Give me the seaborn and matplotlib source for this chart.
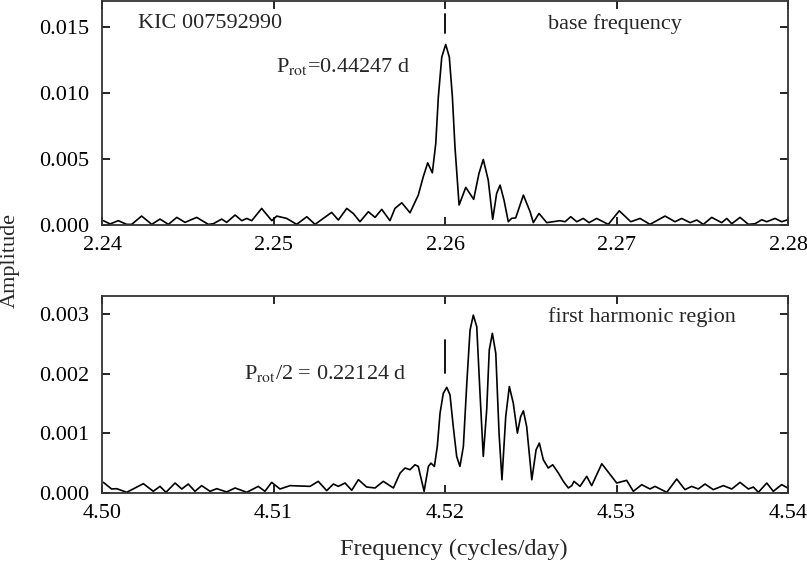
import numpy as np
import pandas as pd
import matplotlib
matplotlib.use("Agg")
import matplotlib.pyplot as plt
import seaborn as sns

# base frequency region (peaks, troughs and flanks)
freq_base = [2.24008, 2.24047, 2.24095, 2.24144, 2.24173, 2.24231, 2.2429, 2.24338,
             2.24387, 2.24436, 2.24484, 2.24552, 2.2462, 2.24649, 2.24698, 2.24727,
             2.24776, 2.24815, 2.24844, 2.24873, 2.24931, 2.2499, 2.25019, 2.25077,
             2.25135, 2.25194, 2.25242, 2.2529, 2.25339, 2.25378, 2.25427, 2.25465,
             2.25504, 2.25553, 2.25592, 2.25631, 2.25679,
             2.25708, 2.25748, 2.25796, 2.25844, 2.25873, 2.25899, 2.25926, 2.25946,
             2.25961, 2.25981, 2.26004, 2.26025, 2.26043, 2.26058, 2.26082, 2.26121,
             2.26167, 2.26198, 2.26223, 2.26252, 2.26278, 2.26301, 2.26321, 2.26344,
             2.26369, 2.26389, 2.26412, 2.26457, 2.26496, 2.26515, 2.26548, 2.26593,
             2.2667, 2.267, 2.26733, 2.26768, 2.26806, 2.2684, 2.26884, 2.26952,
             2.27016, 2.27083, 2.27137, 2.27195, 2.27283, 2.27341, 2.2738, 2.27429,
             2.27468, 2.27506, 2.27555, 2.27613, 2.27643, 2.27672, 2.2772, 2.27769,
             2.27808, 2.27847, 2.27876, 2.27924, 2.27963, 2.27998]
amp_base = [0.00033, 0.00008, 0.00033, 0.00005, 0.00005, 0.00068, 0.00005, 0.00045,
            0.00005, 0.00058, 0.0002, 0.00058, 0.00005, 0.0001, 0.00045, 0.0002,
            0.00076, 0.00033, 0.0005, 0.00033, 0.00126, 0.00033, 0.00068, 0.0005,
            0.00005, 0.00063, 0.00005, 0.0005, 0.00096, 0.00038, 0.00126, 0.00088,
            0.00025, 0.00101, 0.00058, 0.00119, 0.00033,
            0.00126, 0.00169, 0.00093, 0.00227, 0.00366, 0.00472, 0.00396, 0.00619,
            0.00972, 0.01275, 0.01371, 0.01275, 0.00972, 0.00593, 0.00152, 0.00286,
            0.00195, 0.00392, 0.00498, 0.00341, 0.00043, 0.0024, 0.00303, 0.00189,
            0.00025, 0.00051, 0.00054, 0.00227, 0.00101, 0.00018, 0.00088, 0.00018,
            0.00033, 0.00025, 0.00063, 0.00025, 0.0005, 0.00018, 0.0005, 0.00005,
            0.00108, 0.00025, 0.0005, 0.00005, 0.00068, 0.00025, 0.0005, 0.00018,
            0.00038, 0.00005, 0.00058, 0.00018, 0.0005, 0.0001, 0.00058, 0.00005,
            0.0001, 0.0004, 0.00025, 0.0005, 0.00025, 0.0004]

# first harmonic region
freq_harm = [4.50008, 4.50056, 4.50086, 4.50144, 4.50241, 4.50299, 4.50338, 4.50373,
             4.50426, 4.50465, 4.50503, 4.50542, 4.50581, 4.5063, 4.50669, 4.50727,
             4.50776, 4.50844, 4.50911, 4.5095, 4.50989, 4.51038, 4.51096, 4.51213,
             4.51261, 4.5131, 4.51349, 4.51378, 4.51417, 4.51456, 4.51495, 4.51543,
             4.51592, 4.5164, 4.51699,
             4.51738, 4.51767, 4.51796, 4.51825, 4.51844, 4.51878, 4.51903, 4.51918,
             4.51938, 4.51955, 4.51971, 4.5199, 4.5201, 4.52029, 4.52048, 4.52068,
             4.52087, 4.52107, 4.52127, 4.52146, 4.52165, 4.52185, 4.52204, 4.52223,
             4.52243, 4.52258, 4.52276, 4.52296, 4.52315, 4.52332, 4.52354, 4.52375,
             4.52398, 4.52422, 4.52441, 4.52457, 4.52476, 4.52506, 4.52531, 4.5255,
             4.52573, 4.52602, 4.52628, 4.52661, 4.5269, 4.52719,
             4.52739, 4.52752, 4.52787, 4.52826, 4.52855, 4.52914, 4.53001, 4.53059,
             4.53098, 4.53147, 4.53195, 4.53224, 4.53293, 4.53351, 4.53399, 4.53438,
             4.53477, 4.53516, 4.53564, 4.53623, 4.53672, 4.5372, 4.53769, 4.53798,
             4.53827, 4.53876, 4.53914, 4.53963, 4.53998]
amp_harm = [0.000178, 0.000067, 0.000072, 0.000011, 0.000156, 0.000028, 0.000111, 0.000011,
            0.000167, 0.000067, 0.00015, 0.000028, 0.000123, 0.000028, 0.000072, 0.000017,
            0.000084, 0.000011, 0.000111, 0.000028, 0.000178, 0.000067, 0.000123, 0.000111,
            0.000195, 0.000039, 0.00015, 0.000111, 0.000167, 0.000045, 0.000223, 0.0001,
            0.000084, 0.000195, 0.000084,
            0.000334, 0.000418, 0.00039, 0.000473, 0.000445, 0.000028, 0.000445, 0.0005,
            0.000445, 0.00078, 0.001338, 0.00167, 0.00177, 0.001644, 0.001114, 0.000612,
            0.000445, 0.00078, 0.00184, 0.00273, 0.00298, 0.002786, 0.00167, 0.000612,
            0.001393, 0.002396, 0.002675, 0.00234, 0.001003, 0.000222, 0.00128, 0.001783,
            0.001505, 0.001003, 0.00128, 0.001376, 0.001114, 0.000222, 0.000724, 0.000836,
            0.000557, 0.000418, 0.000473, 0.000334, 0.000194, 0.000084,
            0.000123, 0.000195, 0.000111, 0.000279, 0.000123, 0.00049, 0.000167, 0.000212,
            0.000028, 0.000139, 0.000067, 0.000111, 0.000011, 0.000234, 0.000056, 0.000111,
            0.000067, 0.00015, 0.000056, 0.000123, 0.000067, 0.000178, 0.000067, 0.0001,
            0.000011, 0.000167, 0.000028, 0.00014, 0.000084]

base_df = pd.DataFrame({"freq": freq_base, "amp": amp_base})
harm_df = pd.DataFrame({"freq": freq_harm, "amp": amp_harm})

sns.set_style("ticks")
plt.rcParams['font.family'] = ['Liberation Serif', 'DejaVu Serif']
plt.rcParams['mathtext.fontset'] = 'stix'
plt.rcParams['font.size'] = 16

fig = plt.figure(figsize=(8.07, 5.62), dpi=100)
ax1 = fig.add_axes([0.1264, 0.5996, 0.8501, 0.3984])
ax2 = fig.add_axes([0.1264, 0.1228, 0.8501, 0.3505])

sns.lineplot(data=base_df, x="freq", y="amp", ax=ax1, color="black", lw=1.2,
             sort=False, estimator=None)
sns.lineplot(data=harm_df, x="freq", y="amp", ax=ax2, color="black", lw=1.2,
             sort=False, estimator=None)

ax1.set_xlim(2.24, 2.28)
ax1.set_ylim(0, 0.017)
ax1.set_xticks([2.24, 2.25, 2.26, 2.27, 2.28])
ax1.set_yticks([0.0, 0.005, 0.010, 0.015])
ax1.set_xticklabels(["2.24", "2.25", "2.26", "2.27", "2.28"])
ax1.set_yticklabels(["0.000", "0.005", "0.010", "0.015"])

ax2.set_xlim(4.50, 4.54)
ax2.set_ylim(0, 0.0033)
ax2.set_xticks([4.50, 4.51, 4.52, 4.53, 4.54])
ax2.set_yticks([0.0, 0.001, 0.002, 0.003])
ax2.set_xticklabels(["4.50", "4.51", "4.52", "4.53", "4.54"])
ax2.set_yticklabels(["0.000", "0.001", "0.002", "0.003"])

for ax in (ax1, ax2):
    ax.set_xlabel("")
    ax.set_ylabel("")
    ax.tick_params(direction="in", length=6, width=1.2, top=True, right=True,
                   labelsize=16, colors="black")
    ax.tick_params(axis="y", pad=9)
    ax.tick_params(axis="x", pad=8)
    for s in ax.spines.values():
        s.set_linewidth(1.3)
        s.set_color("#333333")

# rotation period markers
ax1.plot([2.26, 2.26], [0.01455, 0.01606], color="black", lw=1.3)
ax2.plot([4.52, 4.52], [0.00201, 0.00256], color="black", lw=1.3)

ax1.text(2.2421, 0.0153, "KIC 007592990", va="center", ha="left", fontsize=16)
ax1.text(2.25015, 0.01205, r"P$_{\rm rot}$=0.44247 d", va="center", ha="left", fontsize=16)
ax1.text(2.26601, 0.01523, "base frequency", va="center", ha="left", fontsize=16)
ax2.text(4.50828, 0.002, r"P$_{\rm rot}$/2 = 0.22124 d", va="center", ha="left", fontsize=16)
ax2.text(4.52601, 0.00295, "first harmonic region", va="center", ha="left", fontsize=16)

fig.text(0.013, 1 - 260 / 562, "Amplitude", rotation=90, va="center", ha="center", fontsize=16)
fig.text(0.5626, 1 - 549 / 562, "Frequency (cycles/day)", va="center", ha="center", fontsize=17.5)

fig.savefig("out.png", dpi=100)
